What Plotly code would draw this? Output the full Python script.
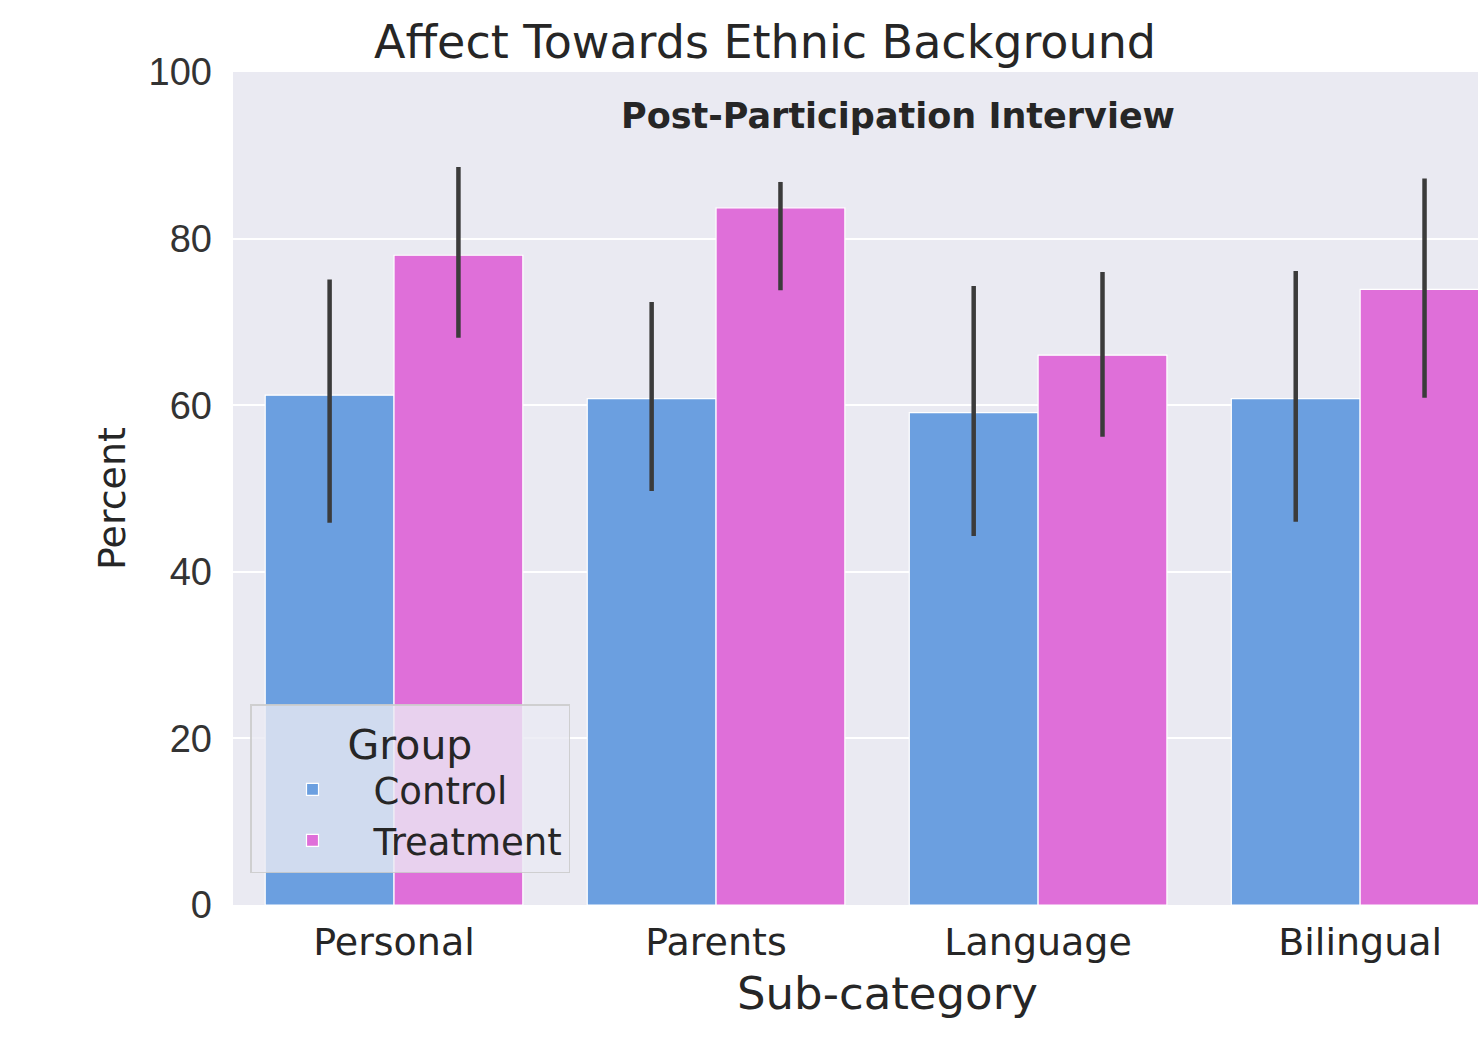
import plotly.graph_objects as go

categories = ["Personal", "Parents", "Language", "Bilingual"]
control_vals = [61.2, 60.8, 59.1, 60.8]
control_lo = [45.9, 49.7, 44.3, 46.0]
control_hi = [75.1, 72.4, 74.3, 76.1]
treatment_vals = [78.0, 83.7, 66.0, 73.9]
treatment_lo = [68.1, 73.8, 56.2, 60.9]
treatment_hi = [88.6, 86.8, 76.0, 87.2]
y_ticks = [0, 20, 40, 60, 80, 100]

W, H = 1478, 1037
L, T, B = 233, 72, 905
TXT = "#262626"

def err(vals, lo, hi):
    return dict(type="data", symmetric=False,
                array=[h - v for v, h in zip(vals, hi)],
                arrayminus=[v - l for v, l in zip(vals, lo)],
                color="#3b3b3b", thickness=4.5, width=0)

fig = go.Figure()
fig.add_trace(go.Bar(x=categories, y=control_vals, name="Control",
                     marker=dict(color="#6b9fe0", line=dict(color="white", width=1.2)),
                     error_y=err(control_vals, control_lo, control_hi)))
fig.add_trace(go.Bar(x=categories, y=treatment_vals, name="Treatment",
                     marker=dict(color="#df6fd9", line=dict(color="white", width=1.2)),
                     error_y=err(treatment_vals, treatment_lo, treatment_hi)))

pw = W - L
ph = B - T
fig.update_layout(
    width=W, height=H,
    margin=dict(l=L, r=0, t=T, b=H - B, pad=0),
    paper_bgcolor="white", plot_bgcolor="#eaeaf2",
    barmode="group", bargap=0.2, bargroupgap=0,
    font=dict(family="DejaVu Sans", color=TXT),
    title=dict(text="Affect Towards Ethnic Background", x=765 / W, xref="container",
               xanchor="center", y=1 - 42 / H, yref="container", yanchor="middle",
               font=dict(size=46, color=TXT, family="DejaVu Sans")),
    xaxis=dict(range=[-0.5, 3.366], showgrid=False, zeroline=False, showline=False,
               tickfont=dict(size=38, family="DejaVu Sans", color=TXT),
               ticklabelstandoff=11),
    yaxis=dict(range=[0, 100], tickvals=y_ticks, showgrid=True, gridcolor="white",
               gridwidth=2, zeroline=False, showline=False,
               tickfont=dict(size=38, family="Liberation Sans", color="#333333"),
               ticklabelstandoff=20),
    legend=dict(x=(250 - L) / pw, y=(B - 873) / ph, xanchor="left", yanchor="bottom",
                bgcolor="rgba(234,234,242,0.8)", bordercolor="rgba(204,204,204,0.9)",
                borderwidth=1.5, font=dict(size=37, color=TXT, family="DejaVu Sans"),
                title=dict(text="Group", side="top center",
                           font=dict(size=41, color=TXT, family="DejaVu Sans")),
                itemwidth=112, tracegroupgap=4),
    annotations=[
        dict(text="<b>Post-Participation Interview</b>", xref="paper", yref="paper",
             x=(898 - L) / pw, y=(B - 116) / ph, xanchor="center", yanchor="middle",
             showarrow=False, font=dict(size=35, color=TXT, family="DejaVu Sans")),
        dict(text="Sub-category", xref="paper", yref="paper",
             x=(887 - L) / pw, y=-(993 - B) / ph, xanchor="center", yanchor="middle",
             showarrow=False, font=dict(size=45, color=TXT, family="DejaVu Sans")),
        dict(text="Percent", xref="paper", yref="paper", textangle=-90,
             x=-(L - 112) / pw, y=(B - 498) / ph, xanchor="center", yanchor="middle",
             showarrow=False, font=dict(size=38, color=TXT, family="DejaVu Sans")),
    ],
)

fig.write_html("out.html")
